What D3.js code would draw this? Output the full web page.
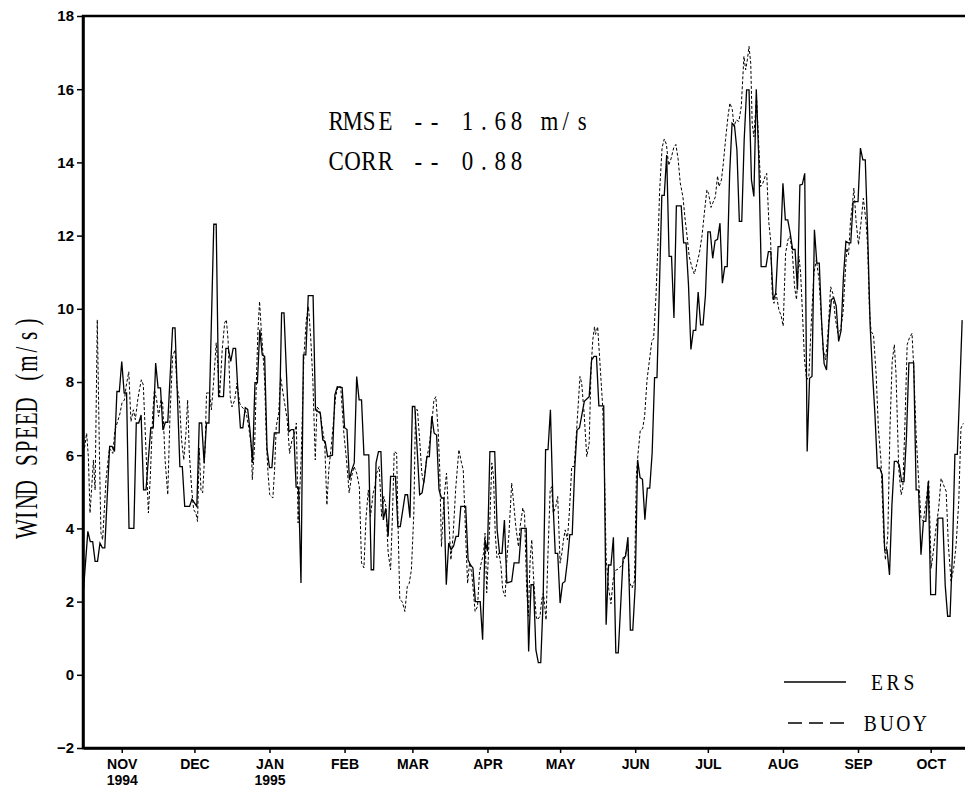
<!DOCTYPE html>
<html>
<head>
<meta charset="utf-8">
<script src="https://cdn.jsdelivr.net/npm/d3@7"></script>
<style>
  body { margin: 0; background: #fff; }
  .tick text { font-family: "Liberation Sans", Arial, sans-serif; font-weight: bold; font-size: 15px; }
  .xax .tick text { font-size: 14px; }
  .serif { font-family: "Liberation Serif", "DejaVu Serif", serif; fill: #000; }
</style>
</head>
<body>
<div id="chart"></div>
<script>
// days counted from 30 Oct 1994
var startDate = new Date(1994, 9, 30);

var ersData = [[0,2.14],[2,3.92],[3,3.64],[4,3.64],[5,3.1],[6,3.1],[7,3.6],[8,3.47],[9,3.47],[11,6.24],[12,6.24],[13,6.1],[14,7.74],[15,7.74],[16,8.56],[17,7.7],[18,7.7],[19,4.0],[21,4.0],[22,6.88],[23,6.88],[24,7.1],[25,5.05],[26,5.05],[28,6.75],[29,6.75],[30,8.52],[31,7.84],[32,7.84],[33,6.69],[34,6.9],[35,6.9],[37,9.48],[38,9.48],[40,5.69],[41,5.69],[42,4.6],[44,4.6],[45,4.8],[47,4.6],[48,6.88],[49,6.88],[50,5.79],[51,6.88],[52,6.88],[54,12.31],[55,12.31],[56,7.6],[58,7.6],[59,8.92],[60,8.92],[61,8.56],[62,8.92],[63,8.92],[64,7.7],[65,6.75],[66,6.75],[67,7.3],[68,7.25],[69,6.65],[70,5.79],[71,7.98],[72,7.98],[73,9.43],[74,8.74],[75,8.7],[76,6.15],[77,5.66],[78,5.66],[79,6.61],[81,6.61],[82,9.89],[83,9.89],[84,8.25],[85,6.64],[86,6.7],[87,6.7],[88,5.13],[89,5.13],[90,2.51],[91,8.74],[92,8.74],[93,10.36],[95,10.36],[96,7.24],[98,7.15],[99,6.42],[100,6.37],[101,5.96],[103,6.0],[104,7.65],[105,7.87],[107,7.85],[108,6.75],[109,6.7],[110,5.33],[111,5.6],[112,5.79],[113,8.15],[114,7.51],[115,7.51],[116,6.01],[118,6.01],[119,2.87],[120,2.87],[121,5.79],[122,6.1],[123,6.1],[124,4.23],[125,4.55],[126,3.78],[127,5.42],[129,5.42],[130,4.05],[131,4.05],[133,4.92],[134,4.92],[135,4.29],[136,7.33],[137,7.33],[139,4.92],[140,4.97],[141,5.38],[142,5.96],[143,5.96],[144,7.06],[145,6.6],[146,6.55],[147,5.05],[148,4.83],[149,4.83],[150,2.46],[151,3.6],[152,3.42],[153,3.51],[154,3.78],[155,3.78],[156,4.6],[158,4.6],[159,3.14],[160,3.0],[161,2.92],[162,2.0],[164,2.0],[165,0.96],[166,3.69],[167,3.37],[168,6.1],[170,6.1],[171,3.96],[172,3.32],[173,3.32],[174,4.23],[175,2.51],[177,2.55],[178,3.06],[180,3.06],[181,4.0],[183,4.0],[184,0.64],[185,2.46],[186,2.46],[187,0.68],[188,0.33],[189,0.33],[190,2.05],[191,6.15],[192,6.15],[193,7.24],[194,4.8],[195,3.32],[196,3.32],[197,1.96],[198,2.5],[199,2.55],[200,3.1],[201,3.83],[202,3.83],[203,5.6],[204,6.69],[205,6.75],[207,7.47],[209,7.6],[210,8.6],[211,8.7],[212,8.7],[213,7.35],[215,7.35],[216,1.37],[217,3.0],[218,3.0],[219,3.76],[220,0.6],[221,0.6],[223,3.19],[224,3.24],[225,3.76],[226,1.22],[227,1.22],[228,2.42],[229,5.87],[230,5.39],[231,5.34],[232,4.24],[233,5.1],[234,5.1],[235,6.06],[236,8.12],[237,8.12],[239,13.1],[240,13.1],[241,14.2],[242,11.43],[243,11.43],[244,9.75],[245,12.81],[247,12.81],[248,11.8],[249,11.8],[250,10.66],[251,8.89],[252,9.41],[253,9.41],[254,10.46],[255,9.56],[256,9.56],[257,10.37],[258,12.1],[259,12.1],[260,11.38],[261,11.86],[262,11.9],[263,12.34],[264,10.7],[265,11.15],[266,11.15],[267,13.7],[268,15.07],[269,15.0],[270,14.34],[271,12.39],[272,12.39],[273,14.62],[274,15.98],[275,15.98],[276,13.52],[277,13.07],[278,16.0],[279,14.16],[280,11.15],[282,11.15],[283,11.56],[284,11.56],[285,10.25],[286,10.42],[287,11.7],[288,11.7],[289,13.43],[290,12.43],[291,12.43],[292,12.07],[293,11.62],[294,11.62],[295,10.52],[296,13.38],[297,13.4],[298,13.7],[299,6.1],[300,8.1],[301,8.15],[302,12.16],[303,11.25],[304,11.25],[305,9.61],[306,8.5],[307,8.33],[308,9.61],[309,10.25],[310,10.3],[311,10.07],[312,9.11],[313,9.4],[314,10.89],[315,11.84],[316,11.8],[317,11.8],[318,12.93],[320,12.93],[321,14.39],[322,14.07],[323,14.07],[324,12.02],[325,9.56],[326,8.24],[327,7.1],[328,5.65],[329,5.65],[330,5.46],[331,3.41],[332,3.41],[333,2.73],[334,4.64],[335,5.83],[336,5.83],[337,5.74],[338,5.28],[339,5.28],[340,6.5],[341,8.52],[343,8.52],[344,5.05],[345,5.05],[346,3.28],[347,4.19],[348,4.19],[349,5.28],[350,2.19],[352,2.19],[353,4.28],[355,4.28],[356,2.45],[357,1.6],[358,1.6],[359,3.37],[360,6.02],[361,6.02],[362,7.8],[363,9.69]];

var buoyData = [[0,6.07],[0.6,6.19],[1.5,6.6],[2.2,5.97],[2.9,4.42],[3.6,5.14],[4.3,5.87],[5.0,5.05],[5.9,9.7],[6.8,5.97],[7.4,3.88],[8.1,3.69],[8.8,4.51],[9.5,5.33],[10.9,6.19],[12.3,6.05],[13.2,6.69],[14.3,6.92],[15.3,7.15],[16.1,7.43],[17.1,7.51],[17.8,7.88],[18.9,8.28],[19.8,6.92],[20.8,7.24],[21.6,6.97],[22.6,7.51],[23.3,7.79],[24.1,8.06],[24.9,7.92],[26.0,6.15],[27.0,4.42],[27.8,5.42],[28.8,7.15],[29.5,7.79],[30.4,7.51],[31.2,7.06],[32.2,7.51],[32.9,7.43],[33.9,5.87],[35.0,4.92],[35.9,7.06],[37.0,8.7],[38.0,8.88],[38.8,7.88],[39.8,7.51],[40.7,6.42],[41.6,5.87],[42.5,6.6],[43.2,7.51],[43.9,6.05],[44.9,5.05],[45.7,4.51],[46.6,4.42],[47.3,4.19],[48.0,6.19],[48.7,5.05],[49.4,4.97],[50.4,6.19],[51.0,7.7],[52.2,7.7],[53.0,7.24],[53.9,7.97],[55.0,9.07],[55.7,8.43],[56.4,7.6],[57.5,8.9],[58.5,9.62],[59.2,9.7],[59.9,9.15],[60.8,7.6],[61.5,7.32],[62.6,7.5],[63.6,7.97],[64.7,7.42],[65.6,7.32],[66.7,7.24],[67.4,7.15],[68.5,6.74],[69.5,6.24],[69.9,5.33],[70.9,6.33],[71.6,8.06],[72.2,9.34],[72.9,10.2],[73.6,9.43],[74.3,8.79],[75.0,8.06],[75.7,6.42],[76.4,5.5],[77.1,4.92],[78.4,4.83],[79.1,5.6],[79.8,6.79],[80.8,7.15],[81.6,8.14],[82.6,7.69],[83.5,7.32],[84.3,6.97],[85.3,6.05],[86.3,6.42],[87.4,6.6],[88.1,6.88],[88.8,4.15],[89.4,4.88],[90.1,5.97],[91.2,8.7],[92.2,9.7],[93.1,10.06],[94.0,9.24],[94.9,8.06],[95.9,5.87],[96.6,7.32],[97.7,7.24],[98.7,6.79],[99.8,6.33],[100.7,4.64],[101.5,5.6],[102.5,6.24],[103.5,6.97],[104.3,7.6],[105.3,7.88],[106.4,7.87],[107.7,6.6],[108.8,5.87],[109.9,4.97],[110.9,5.42],[111.9,5.69],[113.0,5.51],[114.1,5.14],[115.0,3.06],[116.0,2.92],[116.8,4.23],[117.8,5.05],[118.7,4.33],[119.8,4.96],[120.5,5.14],[121.2,5.5],[122.3,5.69],[123.3,4.33],[124.2,4.87],[125.1,4.6],[126.0,3.33],[127.0,2.87],[127.8,4.42],[128.5,6.1],[129.5,6.06],[130.1,4.05],[130.8,2.05],[131.8,2.0],[132.9,1.73],[133.9,2.41],[134.7,2.5],[135.6,2.87],[136.6,4.42],[137.3,7.24],[138.1,7.24],[139.1,6.33],[139.9,5.51],[140.7,5.24],[141.8,5.87],[142.9,6.24],[143.9,6.79],[144.9,7.51],[145.7,7.6],[146.7,6.6],[147.3,5.6],[148.0,3.5],[149.0,4.78],[150.1,5.51],[151.2,4.05],[151.9,3.14],[152.8,3.78],[153.9,5.1],[155.2,6.15],[156.3,5.78],[157.0,5.6],[158.0,3.8],[158.8,2.5],[159.6,3.06],[160.5,2.78],[161.9,1.73],[162.9,1.87],[163.7,2.78],[164.4,3.05],[165.4,3.32],[166.0,3.87],[166.7,2.24],[167.8,3.87],[168.8,5.79],[169.5,5.42],[170.2,3.87],[170.9,3.2],[171.8,3.33],[172.6,2.96],[173.3,2.32],[174.3,2.14],[175.0,3.14],[175.9,3.87],[177.0,5.24],[177.7,4.78],[178.7,4.05],[179.8,3.5],[180.5,4.05],[181.6,4.56],[182.3,4.42],[183.2,2.32],[183.9,1.6],[184.6,3.14],[185.3,3.69],[186.0,2.69],[187.1,1.6],[187.6,1.5],[188.7,1.6],[189.4,2.05],[190.1,2.23],[191.2,1.5],[191.9,3.14],[192.9,5.05],[193.5,5.14],[194.2,4.42],[195.2,4.6],[196.0,4.87],[197.0,3.05],[197.7,3.32],[198.4,3.69],[199.1,3.96],[200.0,3.69],[200.8,4.42],[201.8,5.69],[202.8,5.69],[203.9,6.78],[204.6,7.51],[205.2,8.15],[205.9,7.97],[206.9,7.15],[208.0,5.96],[209.0,6.33],[209.8,8.42],[210.5,9.15],[211.2,9.51],[211.6,9.3],[212.5,9.51],[213.6,8.36],[214.6,7.3],[215.3,5.58],[216.0,3.19],[217.1,2.33],[218.0,1.94],[218.9,2.61],[219.8,2.85],[221.2,2.9],[222.6,3.0],[223.9,3.24],[224.9,3.57],[225.7,2.52],[226.7,2.37],[227.7,2.56],[228.5,5.48],[229.2,6.06],[230.1,6.68],[231.1,6.73],[231.9,7.07],[232.9,8.07],[233.8,8.55],[234.9,9.13],[235.6,9.18],[236.6,10.37],[237.4,11.8],[238.1,13.24],[239.1,14.4],[240.0,14.64],[240.9,14.49],[241.8,13.92],[242.8,14.1],[243.9,14.4],[244.8,14.49],[245.7,14.1],[246.6,13.44],[247.7,13.06],[248.7,12.39],[249.4,12.0],[250.3,11.43],[251.4,11.14],[252.4,10.95],[253.5,11.24],[254.5,11.52],[255.6,12.0],[256.5,12.58],[257.6,13.25],[258.3,13.15],[259.3,12.77],[260.1,12.9],[261.1,13.06],[262.0,13.63],[262.6,13.34],[263.6,13.52],[264.4,13.98],[265.3,14.62],[266.3,15.25],[267.1,15.62],[268.1,15.44],[268.8,14.98],[269.7,15.16],[270.8,15.12],[271.8,15.53],[272.9,16.9],[273.6,16.53],[274.3,16.8],[275.0,17.17],[275.7,16.71],[276.3,15.07],[277.0,14.7],[278.1,15.8],[279.1,14.34],[279.8,13.34],[280.7,13.43],[281.6,13.61],[282.3,13.7],[283.2,12.34],[283.9,11.89],[284.6,10.42],[285.3,10.15],[286.2,10.42],[287.3,9.98],[288.3,9.8],[289.1,9.53],[290.1,11.52],[291.1,11.89],[291.9,11.98],[292.9,11.52],[293.8,10.6],[294.6,10.25],[295.6,11.43],[296.3,10.98],[297.0,9.98],[297.9,8.61],[298.8,8.06],[299.7,8.15],[300.7,9.61],[301.8,10.98],[302.8,11.34],[303.9,10.79],[304.8,9.8],[305.6,8.88],[306.6,8.61],[307.6,9.33],[308.7,10.6],[309.6,10.42],[310.7,9.71],[311.7,9.33],[312.8,9.43],[313.8,9.88],[314.9,11.16],[315.4,11.66],[316.1,11.48],[316.9,12.4],[317.8,12.93],[318.3,13.3],[319.2,12.39],[320.2,11.75],[321.3,12.39],[322.2,13.02],[323.3,12.39],[324.0,11.66],[324.7,10.01],[325.4,9.38],[326.4,9.29],[327.5,8.2],[328.4,6.74],[329.5,5.83],[330.6,3.82],[331.3,3.14],[332.3,3.82],[333.2,6.74],[334.1,8.56],[335.0,9.02],[335.7,8.2],[336.8,5.65],[337.8,4.92],[338.5,5.1],[339.4,6.92],[340.3,9.02],[341.2,9.2],[342.3,9.33],[343.0,8.38],[344.0,6.56],[344.9,5.46],[346.0,4.28],[347.0,4.19],[348.1,4.74],[349.2,5.33],[350.2,2.91],[351.1,3.37],[352.2,4.01],[353.3,4.55],[354.3,5.37],[355.3,5.19],[356.4,5.01],[357.3,3.55],[358.4,2.56],[359.5,2.91],[360.5,3.55],[361.6,4.74],[362.5,6.74],[363.5,6.87]];

var yTicks = [-2, 0, 2, 4, 6, 8, 10, 12, 14, 16, 18];
var yearLabels = {"NOV": "1994", "JAN": "1995"};
var statLines = ["RMSE -- 1.68 m/s", "CORR -- 0.88"];
var legendNames = ["ERS", "BUOY"];

var margin = {top: 16, right: 0, bottom: 39, left: 83},
    width = 884,
    height = 732;

var svg = d3.select("#chart")
  .append("svg")
    .attr("width", 965)
    .attr("height", 787)
  .append("g")
    .attr("transform", "translate(" + margin.left + "," + margin.top + ")");

var x = d3.scaleTime()
  .domain([startDate, d3.timeDay.offset(startDate, 365)])
  .range([0, width]);

var y = d3.scaleLinear()
  .domain([-2, 18])
  .range([height, 0]);

function dayDate(d) { return new Date(startDate.getTime() + d * 864e5); }

// fixed-pitch text: every glyph centred in its own cell, squeezed by sx
function monoText(parent, str, x0, y0, cell, size, sx) {
  var pos = str.split("").map(function(c, i) { return ((x0 + (i + 0.5) * cell) / sx).toFixed(1); });
  return parent.append("text")
    .attr("class", "serif")
    .attr("transform", "scale(" + sx + ",1)")
    .attr("x", pos.join(" "))
    .attr("y", y0)
    .attr("font-size", size + "px")
    .attr("text-anchor", "middle")
    .style("white-space", "pre")
    .text(str);
}

// ticks sit on the 15th of each month
var monthTicks = d3.timeMonth.range(new Date(1994, 10, 1), new Date(1995, 10, 1))
  .map(function(m) { return new Date(m.getFullYear(), m.getMonth(), 15); });

var xAxis = svg.append("g")
  .attr("class", "xax")
  .attr("transform", "translate(0," + height + ")")
  .call(d3.axisBottom(x)
    .tickValues(monthTicks)
    .tickSize(5)
    .tickSizeOuter(0)
    .tickPadding(6)
    .tickFormat(function(d) { return d3.timeFormat("%b")(d).toUpperCase(); }));

xAxis.selectAll(".tick").each(function() {
  var g = d3.select(this), lab = g.select("text").text();
  if (yearLabels[lab]) {
    g.append("text")
      .attr("fill", "currentColor")
      .attr("y", 37)
      .attr("text-anchor", "middle")
      .text(yearLabels[lab]);
  }
});

svg.append("g")
  .call(d3.axisLeft(y).tickValues(yTicks).tickSize(6).tickSizeOuter(0).tickPadding(3));

svg.selectAll(".domain").attr("stroke-width", 2.5);
svg.selectAll(".tick line").attr("stroke-width", 1.5);

// frame
svg.append("rect")
  .attr("width", width)
  .attr("height", height)
  .attr("fill", "none")
  .attr("stroke", "#000")
  .attr("stroke-width", 2.5);

svg.append("clipPath").attr("id", "clip")
  .append("rect").attr("width", width).attr("height", height);

var line = d3.line()
  .x(function(d) { return x(dayDate(d[0])); })
  .y(function(d) { return y(d[1]); });

svg.append("path")
  .datum(buoyData)
  .attr("clip-path", "url(#clip)")
  .attr("fill", "none")
  .attr("stroke", "#000")
  .attr("stroke-width", 1)
  .attr("stroke-dasharray", "3,2")
  .attr("d", line);

svg.append("path")
  .datum(ersData)
  .attr("clip-path", "url(#clip)")
  .attr("fill", "none")
  .attr("stroke", "#000")
  .attr("stroke-width", 1.3)
  .attr("d", line);

// stats
statLines.forEach(function(s, i) {
  monoText(svg, s, 245, 114 + i * 40, 16.4, 27, 0.85);
});

// y label
var yl = svg.append("g").attr("transform", "rotate(-90)");
monoText(yl, "WIND SPEED (m/s)", -(536 - margin.top), -46, 13.8, 31, 0.68);

// legend
var legend = svg.append("g").attr("transform", "translate(701,0)");
legend.append("line")
  .attr("x1", 0).attr("x2", 62)
  .attr("y1", 666).attr("y2", 666)
  .attr("stroke", "#000").attr("stroke-width", 1.3);
legend.append("line")
  .attr("x1", 4).attr("x2", 60)
  .attr("y1", 707).attr("y2", 707)
  .attr("stroke", "#000").attr("stroke-width", 1.3)
  .attr("stroke-dasharray", "14,7");
monoText(legend, legendNames[0], 85, 674, 16, 23, 0.85);
monoText(legend, legendNames[1], 78, 715, 16.5, 23, 0.85);
</script>
</body>
</html>
